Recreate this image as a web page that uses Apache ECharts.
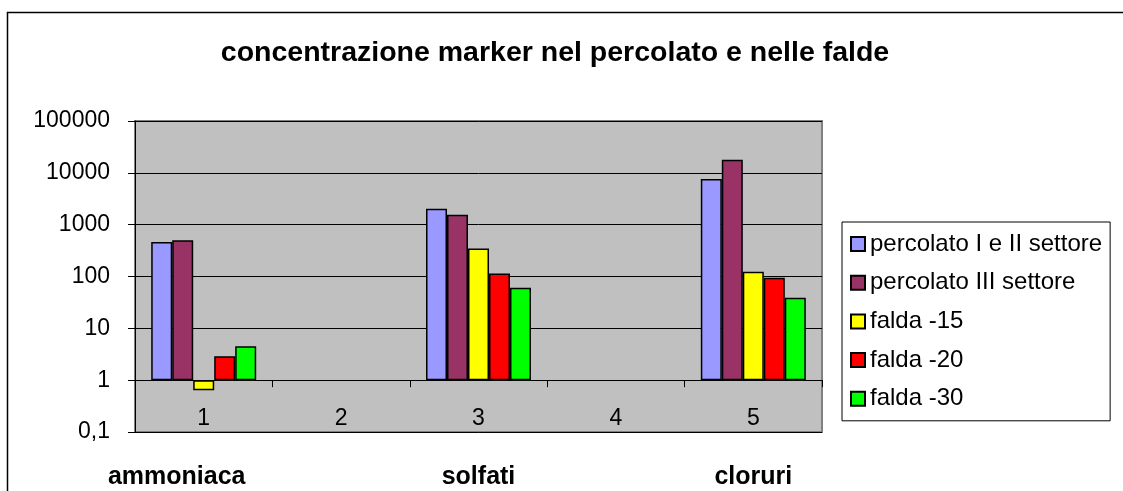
<!DOCTYPE html>
<html>
<head>
<meta charset="utf-8">
<script src="https://cdn.jsdelivr.net/npm/echarts@6/dist/echarts.min.js"></script>
<style>
html,body{margin:0;padding:0;background:#fff;}
#chart{width:1123px;height:491px;}
</style>
</head>
<body>
<div id="chart"></div>
<script>
// ---- data ----
const categories = ['1', '2', '3', '4', '5'];
const groupNames = ['ammoniaca', '', 'solfati', '', 'cloruri'];
const seriesNames = ['percolato I e II settore', 'percolato III settore', 'falda -15', 'falda -20', 'falda -30'];
const percolatoI_II = [464, null, 2030, null, 7600];
const percolatoIII = [500, null, 1560, null, 17900];
const falda15 = [0.64, null, 345, null, 123];
const falda20 = [2.9, null, 114, null, 95];
const falda30 = [4.5, null, 61, null, 39];
const seriesValues = [percolatoI_II, percolatoIII, falda15, falda20, falda30];
const seriesColors = ['#9999FF', '#993366', '#FFFF00', '#FF0000', '#00FF00'];

// ---- layout ----
const W = 1123, H = 491;
const gridTop = 121, gridBottom = 59, gridLeft = 135, gridRight = 301;
const decades = 6;
const decadePx = (H - gridTop - gridBottom) / decades;
const FONT = '"Liberation Sans", Arial, sans-serif';

const chart = echarts.init(document.getElementById('chart'), null, {renderer: 'canvas'});

const option = {
  animation: false,
  backgroundColor: '#fff',
  title: {
    text: 'concentrazione marker nel percolato e nelle falde',
    left: 550,
    top: 34,
    textAlign: 'center',
    textStyle: {fontFamily: FONT, fontSize: 28.5, fontWeight: 'bold', color: '#000'}
  },
  graphic: [{
    type: 'rect',
    shape: {x: 7.5, y: 12.5, width: 1200, height: 600},
    style: {fill: 'none', stroke: '#000', lineWidth: 1.5},
    silent: true,
    z: -1
  }],
  legend: {
    orient: 'vertical',
    left: 842,
    top: 222,
    data: seriesNames,
    icon: 'rect',
    itemWidth: 14,
    itemHeight: 14,
    itemGap: 14.7,
    padding: [10, 8, 10, 8],
    borderColor: '#000',
    borderWidth: 1,
    backgroundColor: '#fff',
    textStyle: {fontFamily: FONT, fontSize: 24, color: '#000', lineHeight: 24}
  },
  grid: {
    left: gridLeft, right: gridRight, top: gridTop, bottom: gridBottom,
    show: true,
    backgroundColor: '#C0C0C0',
    borderColor: '#808080',
    borderWidth: 2,
    containLabel: false
  },
  xAxis: [{
    type: 'category',
    data: categories,
    position: 'bottom',
    offset: -decadePx,
    axisLine: {show: true, lineStyle: {color: '#000', width: 1}},
    axisTick: {show: true, length: 7, lineStyle: {color: '#000'}},
    axisLabel: {fontFamily: FONT, fontSize: 23, color: '#000', margin: 27},
    splitLine: {show: false}
  }, {
    type: 'category',
    data: groupNames,
    position: 'bottom',
    offset: 0,
    axisLine: {show: false},
    axisTick: {show: false},
    axisLabel: {
      interval: 0,
      margin: 33,
      formatter: v => v === 'ammoniaca' ? '{shift|' + v + '}' : '{n|' + v + '}',
      rich: {
        shift: {fontFamily: FONT, fontSize: 25, fontWeight: 'bold', color: '#000', padding: [0, 54, 0, 0]},
        n: {fontFamily: FONT, fontSize: 25, fontWeight: 'bold', color: '#000'}
      }
    }
  }],
  yAxis: {
    type: 'log',
    logBase: 10,
    min: 0.1,
    max: 100000,
    axisLine: {show: true, lineStyle: {color: '#000', width: 1}},
    axisTick: {show: true, length: 7, lineStyle: {color: '#000'}},
    axisLabel: {
      fontFamily: FONT, fontSize: 23, color: '#000', margin: 25,
      formatter: v => String(v).replace('.', ',')
    },
    splitLine: {show: true, lineStyle: {color: '#000', width: 1}}
  },
  series: seriesNames.map((name, i) => ({
    name: name,
    type: 'bar',
    xAxisIndex: 0,
    data: seriesValues[i],
    barGap: '0%',
    barCategoryGap: '23.6%',
    itemStyle: {color: seriesColors[i], borderColor: '#000', borderWidth: 1.5}
  }))
};
chart.setOption(option);
</script>
</body>
</html>
